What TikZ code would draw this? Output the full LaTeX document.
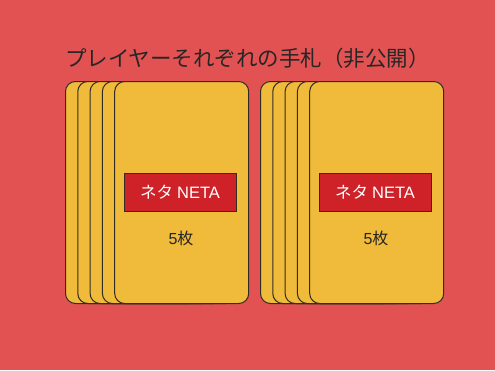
\documentclass[tikz,border=0pt]{standalone}
\usepackage{fontspec}
\setmainfont{Noto Sans CJK JP}
\newfontfamily\jpfont{Noto Sans CJK JP}
\newfontfamily\latinfont{Liberation Sans}
\definecolor{bgred}{RGB}{226,82,82}
\definecolor{cardyellow}{RGB}{240,186,58}
\definecolor{labelred}{RGB}{206,34,40}
\definecolor{edge}{RGB}{50,45,35}
\tikzset{
  card/.style={draw=edge, fill=cardyellow, line width=1pt, rounded corners=10pt,
    minimum width=134pt, minimum height=222pt, inner sep=0pt, anchor=north west},
  labelbox/.style={draw=edge, fill=labelred, line width=1pt, minimum width=112pt,
    minimum height=38pt, inner sep=0pt, text=white, font=\jpfont\fontsize{16.5}{18}\selectfont},
  count/.style={text=black!85, font=\jpfont\fontsize{16}{18}\selectfont, inner sep=0pt},
  title/.style={text=black!85, font=\jpfont\fontsize{21.5}{24}\selectfont, inner sep=0pt}
}
\begin{document}
\begin{tikzpicture}[x=1pt,y=-1pt]
\useasboundingbox (0,0) rectangle (495,370);
\fill[bgred] (0,0) rectangle (495,370);
\node[title] (title) at (247.5,58) {プレイヤーそれぞれの手札（非公開）};
% left hand
\foreach \i in {0,...,4} {
  \node[card] (lc\i) at ({65+\i*12.3},81) {};
}
\node[labelbox] (llabel) at (180,192) {ネタ\hspace{4pt}{\latinfont NETA}};
\node[count] (lcount) at (181,238) {{\latinfont 5}枚};
% right hand
\foreach \i in {0,...,4} {
  \node[card] (rc\i) at ({260+\i*12.3},81) {};
}
\node[labelbox] (rlabel) at (375,192) {ネタ\hspace{4pt}{\latinfont NETA}};
\node[count] (rcount) at (376,238) {{\latinfont 5}枚};
\end{tikzpicture}
\end{document}
